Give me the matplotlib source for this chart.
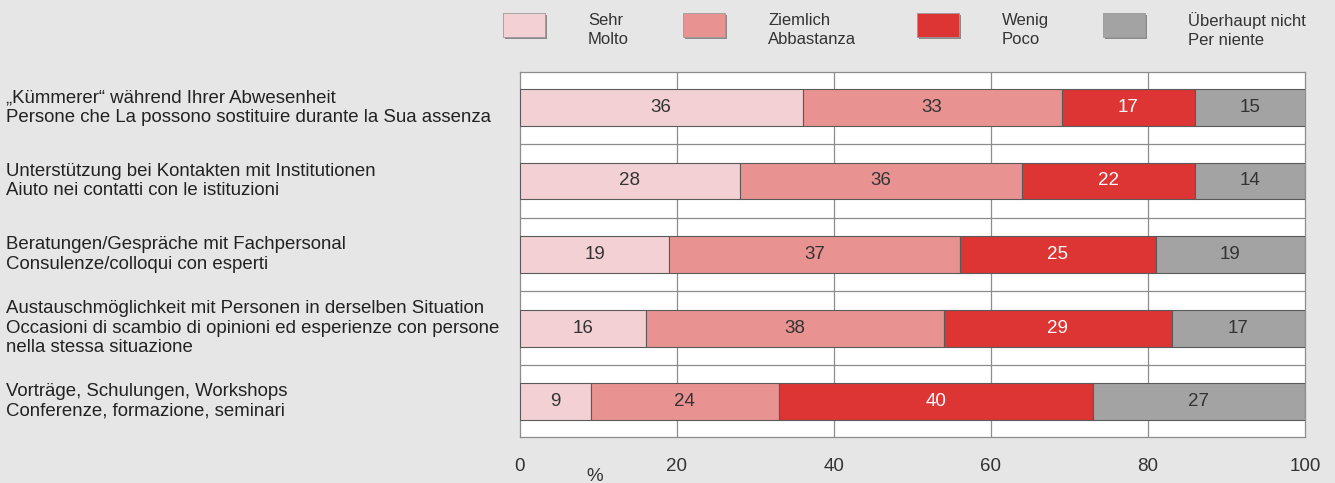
import matplotlib.pyplot as plt
from matplotlib.patches import FancyBboxPatch

plt.rcParams['font.family'] = ['Liberation Sans', 'DejaVu Sans']

categories = [
    "„Kümmerer“ während Ihrer Abwesenheit\nPersone che La possono sostituire durante la Sua assenza",
    "Unterstützung bei Kontakten mit Institutionen\nAiuto nei contatti con le istituzioni",
    "Beratungen/Gespräche mit Fachpersonal\nConsulenze/colloqui con esperti",
    "Austauschmöglichkeit mit Personen in derselben Situation\nOccasioni di scambio di opinioni ed esperienze con persone\nnella stessa situazione",
    "Vorträge, Schulungen, Workshops\nConferenze, formazione, seminari",
]
series_names = ["Sehr\nMolto", "Ziemlich\nAbbastanza", "Wenig\nPoco", "Überhaupt nicht\nPer niente"]
sehr = [36, 28, 19, 16, 9]
ziemlich = [33, 36, 37, 38, 24]
wenig = [17, 22, 25, 29, 40]
ueberhaupt = [15, 14, 19, 17, 27]
x_ticks = [0, 20, 40, 60, 80, 100]

colors = ["#f2d0d3", "#e89292", "#dd3434", "#a3a3a3"]
text_colors = ["#333333", "#333333", "white", "#333333"]

fig = plt.figure(figsize=(13.35, 4.83), dpi=100, facecolor="#e6e6e6")
ax = fig.add_axes([0.3895, 0.0952, 0.588, 0.7557])
ax.set_facecolor("white")

y = list(range(len(categories)))
left = [0] * len(categories)
for vals, col, tcol in zip([sehr, ziemlich, wenig, ueberhaupt], colors, text_colors):
    ax.barh(y, vals, left=left, height=0.5, color=col, edgecolor="#5a5a5a",
            linewidth=0.8, zorder=3)
    for yi, l, v in zip(y, left, vals):
        ax.text(min(l + v / 2, (l + 100) / 2), yi, str(v), ha="center", va="center",
                fontsize=13.5, color=tcol, zorder=4)
    left = [a + b for a, b in zip(left, vals)]

ax.set_xlim(0, 100)
ax.set_ylim(len(categories) - 0.52, -0.48)

# vertical grid and separating lines between rows
for xv in x_ticks[1:-1]:
    ax.axvline(xv, color="#8c8c8c", linewidth=0.9, zorder=1)
for k in range(len(categories) - 1):
    ax.axhline(k + 0.5, color="#8c8c8c", linewidth=0.9, zorder=1)

for s in ax.spines.values():
    s.set_color("#8c8c8c")
    s.set_linewidth(0.9)

ax.set_xticks(x_ticks)
ax.set_xticklabels([str(t) for t in x_ticks], fontsize=13.5, color="#333333")
ax.tick_params(axis="x", length=0, pad=15)
ax.set_yticks(y)
ax.set_yticklabels([])
ax.tick_params(axis="y", length=0)
ax.text(0.0955, -0.107, "%", transform=ax.transAxes, ha="center", va="center",
        fontsize=13.5, color="#333333")

for yi, cat in zip(y, categories):
    ax.text(-514 / 785, yi, cat, transform=ax.get_yaxis_transform(),
            ha="left", va="center", fontsize=13.4, color="#222222", linespacing=1.2)

# legend boxes with a small drop shadow
W, H = 1335.0, 483.0
legend_x = [503, 683, 917, 1103]
for lx, name, col in zip(legend_x, series_names, colors):
    fig.patches.append(FancyBboxPatch(((lx + 2) / W, 1 - 39 / H), 42 / W, 24 / H,
                                      boxstyle="square,pad=0", transform=fig.transFigure,
                                      facecolor="#8a8a8a", edgecolor="none"))
    fig.patches.append(FancyBboxPatch((lx / W, 1 - 37 / H), 42 / W, 24 / H,
                                      boxstyle="square,pad=0", transform=fig.transFigure,
                                      facecolor=col, edgecolor="#9a9a9a", linewidth=0.6))
    fig.text((lx + 85) / W, 1 - 30 / H, name, ha="left", va="center", fontsize=12,
             color="#333333", linespacing=1.35)

fig.savefig("out.png", dpi=100, facecolor=fig.get_facecolor())
